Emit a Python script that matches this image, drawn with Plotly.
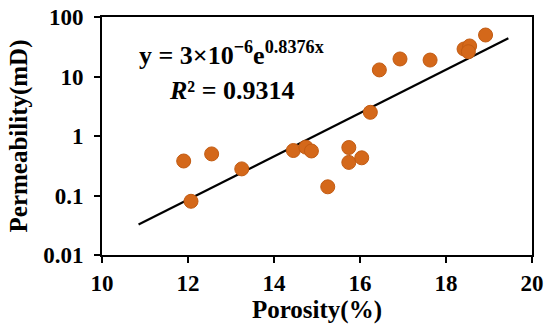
import numpy as np
import plotly.graph_objects as go

# Data
porosity = [11.9, 12.55, 12.07, 13.25, 14.45, 14.74, 14.87, 15.25, 15.74, 15.74,
            16.04, 16.24, 16.45, 16.93, 17.63, 18.42, 18.55, 18.52, 18.92]
permeability = [0.38, 0.50, 0.08, 0.28, 0.57, 0.65, 0.56, 0.14, 0.64, 0.36,
                0.43, 2.5, 12.9, 19.7, 18.9, 29.0, 32.6, 26.1, 49.8]

x_ticks = [10, 12, 14, 16, 18, 20]
y_ticks = [0.01, 0.1, 1, 10, 100]
y_tick_labels = ["0.01", "0.1", "1", "10", "100"]
trend_range = [10.85, 19.45]

# exponential trendline fit (log-linear regression)
b, ln_a = np.polyfit(np.array(porosity), np.log(np.array(permeability)), 1)
tx = np.linspace(trend_range[0], trend_range[1], 50)
ty = np.exp(ln_a + b * tx)

font_family = "Liberation Serif, Times New Roman, serif"

fig = go.Figure()
fig.add_trace(go.Scatter(x=tx, y=ty, mode="lines",
                         line=dict(color="black", width=2.2), showlegend=False,
                         hoverinfo="skip"))
fig.add_trace(go.Scatter(x=porosity, y=permeability, mode="markers",
                         marker=dict(color="#D4681A", size=14,
                                     line=dict(color="#C25B12", width=1)),
                         showlegend=False))

fig.update_layout(
    width=550, height=334,
    margin=dict(l=102, r=18, t=17, b=79, autoexpand=False),
    paper_bgcolor="white", plot_bgcolor="white",
    font=dict(family=font_family, color="black"),
    xaxis=dict(range=[10, 20], tickvals=x_ticks,
               ticktext=["<b>%d</b>" % t for t in x_ticks],
               automargin=False,
               showgrid=False, zeroline=False, showline=True, linecolor="black",
               linewidth=2, mirror=True, ticks="outside", ticklen=6,
               tickwidth=2, tickcolor="black",
               tickfont=dict(family=font_family, size=23, color="black"),
               title=dict(text="<b>Porosity(%)</b>", standoff=0,
                          font=dict(family=font_family, size=25, color="black"))),
    yaxis=dict(type="log", range=[-2, 2], tickvals=y_ticks,
               ticktext=["<b>%s</b>" % t for t in y_tick_labels],
               automargin=False, ticklabelstandoff=6,
               showgrid=False, zeroline=False, showline=True, linecolor="black",
               linewidth=2, mirror=True, ticks="outside", ticklen=6,
               tickwidth=2, tickcolor="black",
               tickfont=dict(family=font_family, size=23, color="black"),
               title=dict(text="<b>Permeability(mD)</b>", standoff=8,
                          font=dict(family=font_family, size=25, color="black"))),
)

fig.add_annotation(xref="paper", yref="paper", x=0.30, y=0.845,
                   text="<b>y = 3×10<sup>−6</sup>e<sup>0.8376x</sup></b>",
                   showarrow=False, xanchor="center", yanchor="middle",
                   font=dict(family=font_family, size=26, color="black"))
fig.add_annotation(xref="paper", yref="paper", x=0.30, y=0.69,
                   text="<b><i>R</i>² = 0.9314</b>",
                   showarrow=False, xanchor="center", yanchor="middle",
                   font=dict(family=font_family, size=26, color="black"))

fig.write_html("out.html", config={"displayModeBar": False},
               post_script="document.body.style.margin='0';document.body.style.padding='0';")
